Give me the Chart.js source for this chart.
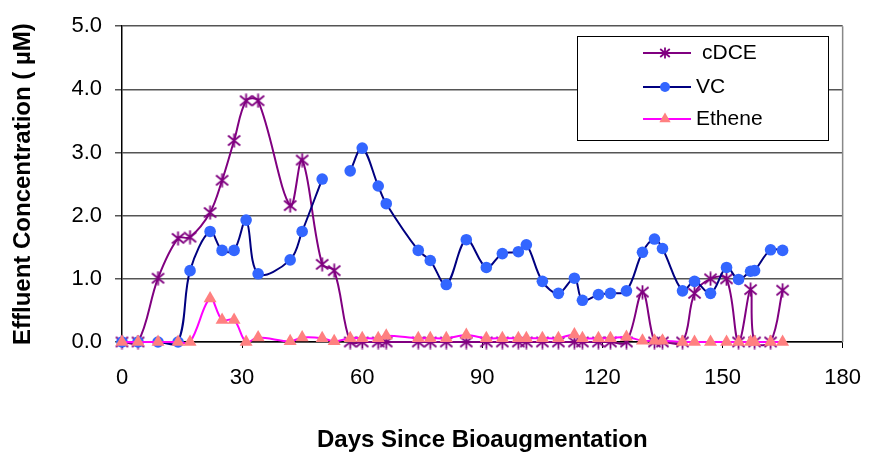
<!DOCTYPE html>
<html>
<head>
<meta charset="utf-8">
<script src="https://cdn.jsdelivr.net/npm/chart.js@4.4.1/dist/chart.umd.min.js"></script>
<style>
  html, body { margin: 0; padding: 0; background: #fff; }
</style>
</head>
<body>
<canvas id="effluentChart" width="878" height="452"></canvas>
<script>
// sampling days (days since bioaugmentation)
const sampleDays = [0, 4, 9, 14, 17, 22, 25, 28, 31, 34, 42, 45, 50, 53, 57, 60, 64, 66, 74, 77, 81, 86,
    91, 95, 99, 101, 105, 109, 113, 115, 119, 122, 126, 130, 133, 135, 140, 143, 147, 151, 154, 157, 158, 162, 165];

const cdceValues = [0, 0, 1.01, 1.64, 1.66, 2.05, 2.56, 3.19, 3.82, 3.82, 2.16, 2.88, 1.23, 1.13, 0, 0, 0, 0, 0, 0, 0, 0,
    0, 0, 0, 0, 0, 0, 0, 0, 0, 0, 0, 0.79, 0, 0, 0, 0.77, 1.0, 1.0, 0, 0.83, 0, 0, 0.82];

const vcValues = [0, 0, 0, 0, 1.13, 1.75, 1.45, 1.45, 1.93, 1.08, 1.30, 1.75, 2.58, null, 2.71, 3.07, 2.47, 2.19, 1.45, 1.29, 0.91, 1.62,
    1.18, 1.40, 1.43, 1.54, 0.96, 0.77, 1.01, 0.66, 0.75, 0.77, 0.81, 1.42, 1.63, 1.48, 0.81, 0.96, 0.77, 1.18, 0.99, 1.12, 1.13, 1.46, 1.45];

const etheneValues = [0, 0, 0, 0, 0, 0.69, 0.35, 0.35, 0, 0.07, 0.01, 0.07, 0.06, 0.01, 0.06, 0.06, 0.06, 0.1, 0.06, 0.06, 0.06, 0.11,
    0.06, 0.06, 0.06, 0.06, 0.06, 0.06, 0.12, 0.06, 0.06, 0.06, 0.08, 0.02, 0.02, 0.02, 0, 0, 0, 0, 0, 0, 0, 0, 0];

const xTicks = [0, 30, 60, 90, 120, 150, 180];
const yTicks = [0, 1, 2, 3, 4, 5];

const toPoints = vals => sampleDays.map((d, i) => ({ x: d, y: vals[i] }));

// six-spoke asterisk marker like the spreadsheet one
function makeStar(color, size) {
    const c = document.createElement('canvas');
    c.width = size; c.height = size;
    const g = c.getContext('2d');
    const m = size / 2, r = size / 2 - 0.5;
    g.strokeStyle = color;
    g.lineWidth = 1.8;
    g.beginPath();
    g.moveTo(m, m - r); g.lineTo(m, m + r);
    g.moveTo(m - r * 0.87, m - r * 0.72); g.lineTo(m + r * 0.87, m + r * 0.72);
    g.moveTo(m + r * 0.87, m - r * 0.72); g.lineTo(m - r * 0.87, m + r * 0.72);
    g.stroke();
    return c;
}
const starMark = makeStar('#800080', 15);
const starSmall = makeStar('#800080', 12);

// legend box drawn inside the plot, top right
const boxLegend = {
    id: 'boxLegend',
    afterDraw(chart) {
        const ctx = chart.ctx;
        const area = chart.chartArea;
        ctx.save();
        // right border of plot area
        ctx.strokeStyle = '#888';
        ctx.lineWidth = 1.5;
        ctx.beginPath();
        ctx.moveTo(area.right, area.top);
        ctx.lineTo(area.right, area.bottom);
        ctx.stroke();

        ctx.fillStyle = '#fff';
        ctx.fillRect(577, 36, 251, 104);
        ctx.strokeStyle = '#000';
        ctx.lineWidth = 1;
        ctx.strokeRect(577.5, 36.5, 251, 104);

        const rows = [53, 87, 119];
        ctx.font = '21px "Liberation Sans", Arial, sans-serif';
        ctx.textBaseline = 'middle';
        chart.data.datasets.forEach((ds, i) => {
            const y = rows[i];
            ctx.strokeStyle = ds.borderColor;
            ctx.lineWidth = ds.borderWidth;
            ctx.beginPath();
            ctx.moveTo(643, y);
            ctx.lineTo(691, y);
            ctx.stroke();
            const cx = 665;
            if (ds.pointStyle === 'circle') {
                ctx.fillStyle = ds.pointBackgroundColor;
                ctx.beginPath();
                ctx.arc(cx, y, 5, 0, Math.PI * 2);
                ctx.fill();
            } else if (ds.pointStyle === 'triangle') {
                const r = 6.5;
                ctx.fillStyle = ds.pointBackgroundColor;
                ctx.beginPath();
                ctx.moveTo(cx, y - r);
                ctx.lineTo(cx + r * Math.sin(Math.PI * 2 / 3), y - r * Math.cos(Math.PI * 2 / 3));
                ctx.lineTo(cx - r * Math.sin(Math.PI * 2 / 3), y - r * Math.cos(Math.PI * 2 / 3));
                ctx.closePath();
                ctx.fill();
            } else {
                ctx.drawImage(starSmall, cx - 6, y - 6);
            }
            ctx.fillStyle = '#000';
            ctx.fillText(ds.label, i === 0 ? 702 : 696, y);
        });
        ctx.restore();
    }
};

Chart.defaults.font.family = '"Liberation Sans", Arial, sans-serif';
Chart.defaults.color = '#000';

const ctx = document.getElementById('effluentChart').getContext('2d');
new Chart(ctx, {
    type: 'line',
    data: {
        datasets: [{
            label: 'cDCE',
            data: toPoints(cdceValues),
            borderColor: '#800080',
            borderWidth: 2,
            pointStyle: starMark,
            pointRadius: 7,
            tension: 0.35,
            clip: false,
            order: 2
        }, {
            label: 'VC',
            data: toPoints(vcValues),
            borderColor: '#000080',
            borderWidth: 2,
            pointStyle: 'circle',
            pointRadius: 5.8,
            pointBackgroundColor: '#3366ff',
            pointBorderColor: '#3366ff',
            pointBorderWidth: 0,
            tension: 0.35,
            spanGaps: false,
            clip: false,
            order: 1
        }, {
            label: 'Ethene',
            data: toPoints(etheneValues),
            borderColor: '#ff00ff',
            borderWidth: 2,
            pointStyle: 'triangle',
            pointRadius: 7.5,
            pointBackgroundColor: '#ff8080',
            pointBorderColor: '#ff8080',
            pointBorderWidth: 0,
            tension: 0.35,
            clip: false,
            order: 0
        }]
    },
    options: {
        responsive: false,
        animation: false,
        layout: { padding: { top: 20, right: 24, left: 0, bottom: 0 } },
        elements: { line: { capBezierPoints: false } },
        plugins: {
            legend: { display: false },
            tooltip: { enabled: false }
        },
        scales: {
            x: {
                type: 'linear',
                min: 0,
                max: 180,
                afterBuildTicks: s => { s.ticks = xTicks.map(v => ({ value: v })); },
                afterFit: s => { s.height = 110; },
                ticks: { font: { size: 22 }, padding: 17, maxRotation: 0 },
                grid: { drawOnChartArea: false, drawTicks: true, tickLength: 6, color: '#000' },
                border: { color: '#000', width: 1.5 },
                title: {
                    display: true,
                    text: 'Days Since Bioaugmentation',
                    font: { size: 24, weight: 'bold', lineHeight: 1 },
                    padding: { top: 0, bottom: 0 }
                }
            },
            y: {
                min: 0,
                max: 5,
                afterBuildTicks: s => { s.ticks = yTicks.map(v => ({ value: v })); },
                afterFit: s => { s.width = 122; },
                ticks: { font: { size: 22 }, padding: 13, callback: v => v.toFixed(1) },
                grid: { color: '#555', lineWidth: 1.5, tickLength: 7 },
                border: { color: '#000', width: 1.5 },
                title: {
                    display: true,
                    text: 'Effluent Concentration ( \u00b5M)',
                    font: { size: 24, weight: 'bold', lineHeight: 1.2 },
                    padding: { top: 9, bottom: 0 }
                }
            }
        }
    },
    plugins: [boxLegend]
});
</script>
</body>
</html>
